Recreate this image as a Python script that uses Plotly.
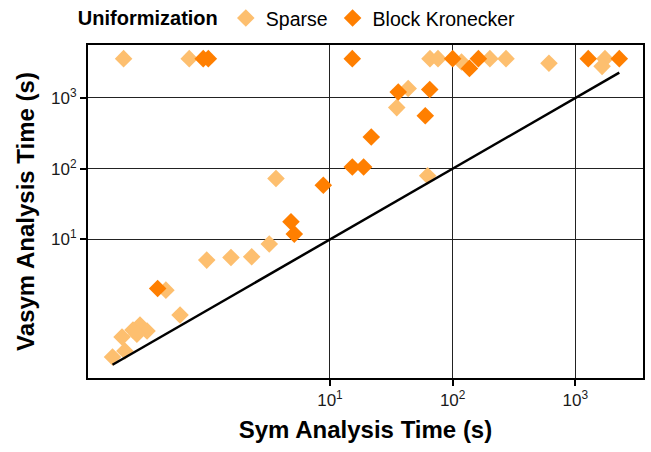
import plotly.graph_objects as go

# Analysis times in seconds (Sym on x, Vasym on y); 3600 s is the timeout ceiling
sparse_sym = [0.208, 0.713, 65.3, 75.9, 118, 201, 272, 609, 1742, 1650,
              43.4, 35.0, 62.5, 3.63, 3.20, 2.30, 1.56, 0.99, 0.46, 0.60,
              0.283, 0.323, 0.248, 0.202, 0.213, 0.169, 0.267]
sparse_vasym = [3600, 3600, 3600, 3600, 3220, 3600, 3600, 3090, 3600, 2800,
                1360, 731, 79.6, 72.8, 8.6, 5.68, 5.57, 5.1, 1.92, 0.853,
                0.615, 0.507, 0.523, 0.417, 0.264, 0.218, 0.457]

block_sym = [0.927, 1.02, 15.2, 100, 137, 162, 1273, 2280,
             36.0, 65.0, 59.8, 21.7, 15.2, 18.8, 8.82, 4.81, 5.12, 0.394]
block_vasym = [3600, 3600, 3600, 3600, 2620, 3600, 3600, 3600,
               1215, 1315, 561, 281, 106, 106, 58.5, 17.8, 11.9, 2.03]

x_ticks = [10, 100, 1000]
tick_text = ["10<sup>1</sup>", "10<sup>2</sup>", "10<sup>3</sup>"]

LIGHT = "#FDBF6F"
DARK = "#FF7F00"

all_x = sparse_sym + block_sym
diag = [min(all_x), max(all_x)]

fig = go.Figure()
fig.add_trace(go.Scatter(
    x=sparse_sym, y=sparse_vasym, mode="markers", name="Sparse",
    marker=dict(symbol="diamond", size=13.5, color=LIGHT, line=dict(width=0)),
))
fig.add_trace(go.Scatter(
    x=block_sym, y=block_vasym, mode="markers", name="Block Kronecker",
    marker=dict(symbol="diamond", size=13.5, color=DARK, line=dict(width=0)),
))
fig.add_trace(go.Scatter(
    x=diag, y=diag, mode="lines", showlegend=False,
    line=dict(color="black", width=2.5),
))

axis_common = dict(
    type="log",
    tickvals=x_ticks,
    ticktext=tick_text,
    showgrid=True,
    gridcolor="#222222",
    gridwidth=1,
    zeroline=False,
    showline=True,
    linecolor="black",
    linewidth=2,
    mirror=True,
    ticks="outside",
    ticklen=6,
    tickwidth=2,
    tickcolor="black",
    tickfont=dict(family="Liberation Sans, Arial, sans-serif", size=17, color="#1a1a1a"),
)

fig.update_layout(
    width=651,
    height=452,
    margin=dict(l=88, r=8, t=45, b=74, autoexpand=False),
    plot_bgcolor="white",
    paper_bgcolor="white",
    font=dict(family="Liberation Sans, Arial, sans-serif", color="black"),
    xaxis=dict(
        **axis_common,
        range=[-0.972, 3.551],
        title=dict(text="<b>Sym Analysis Time (s)</b>",
                   font=dict(size=24, color="black"), standoff=12),
    ),
    yaxis=dict(
        **axis_common,
        range=[-0.959, 3.749],
        title=dict(text="<b>Vasym Analysis Time (s)</b>",
                   font=dict(size=24, color="black"), standoff=10),
    ),
    legend=dict(
        orientation="h",
        x=-0.022,
        xanchor="left",
        y=1.08,
        yanchor="middle",
        title=dict(text="<b>Uniformization</b>", side="left",
                   font=dict(size=20, color="black")),
        font=dict(size=19.5, color="black"),
        bgcolor="rgba(0,0,0,0)",
    ),
    showlegend=True,
)

fig.write_html("out.html")
